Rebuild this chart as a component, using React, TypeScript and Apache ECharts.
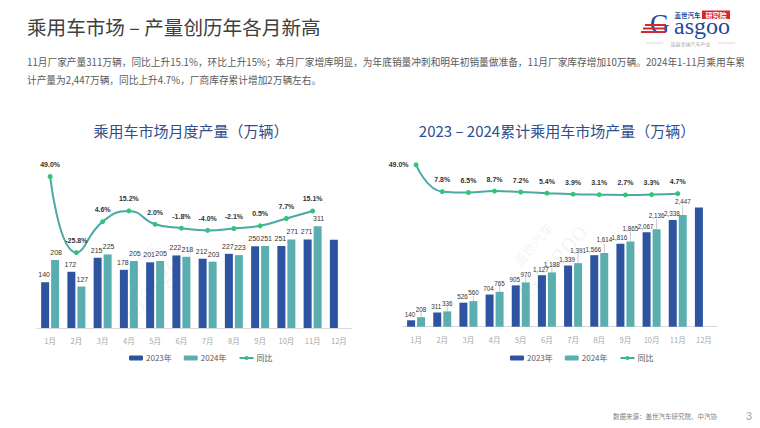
import React, { useEffect, useRef } from 'react';
import * as echarts from 'echarts';

const months = ['1月', '2月', '3月', '4月', '5月', '6月', '7月', '8月', '9月', '10月', '11月', '12月'];
const monthly2023 = [140, 172, 215, 178, 201, 222, 212, 227, 250, 251, 271, 270];
const monthly2024 = [208, 127, 225, 205, 205, 218, 203, 223, 251, 271, 311];
const monthlyYoY = [49.0, -25.8, 4.6, 15.2, 2.0, -1.8, -4.0, -2.1, 0.5, 7.7, 15.1];
const cum2023 = [140, 311, 526, 704, 905, 1127, 1339, 1566, 1816, 2067, 2338, 2608];
const cum2024 = [208, 336, 560, 765, 970, 1188, 1391, 1614, 1865, 2136, 2447];
const cumYoY = [49.0, 7.8, 6.5, 8.7, 7.2, 5.4, 3.9, 3.1, 2.7, 3.3, 4.7];
const seriesNames = ['2023年', '2024年', '同比'];

const C_2023 = '#2E54A1';
const C_2024 = '#5BAEAF';
const C_LINE = '#4AA9A6';
const C_DOT = '#2DC67A';
const FONT = 'Liberation Sans, Noto Sans CJK SC, sans-serif';
const CJK = 'Noto Sans CJK SC, sans-serif';

const fmt = (v: number) => v.toLocaleString('en-US');

export default function App() {
  const ref = useRef<HTMLDivElement>(null);
  useEffect(() => {
    if (!ref.current) return;
    const chart = echarts.init(ref.current, undefined, { renderer: 'svg' });

    const barLabel = (last: boolean, useFmt: boolean, distance: number, size: number, offset: number[]) => ({
      show: true,
      position: 'top',
      distance,
      offset,
      fontSize: size,
      color: '#333',
      fontFamily: FONT,
      formatter: (p: any) => (last && p.dataIndex === 11 ? '' : useFmt ? fmt(p.value) : String(p.value)),
    });
    const lineLabel = {
      show: true,
      position: 'top',
      distance: 6,
      fontSize: 7,
      fontWeight: 'bold',
      color: '#333',
      fontFamily: FONT,
      formatter: (p: any) => p.value.toFixed(1) + '%',
    };
    const xAxisCommon = {
      type: 'category',
      data: months,
      axisLine: { lineStyle: { color: '#D9D9D9', width: 1 } },
      axisTick: { show: false },
      axisLabel: { color: '#A6A6A6', fontSize: 7.5, margin: 9, fontFamily: CJK },
    };
    const legendCommon = {
      data: seriesNames,
      top: 349,
      itemWidth: 14,
      itemHeight: 5,
      itemGap: 12,
      textStyle: { fontSize: 8, color: '#595959', fontFamily: CJK, padding: [0, 0, 0, -2] },
    };

    const watermark = (x: number, y: number) => ({
      type: 'group',
      x,
      y,
      rotation: 0.85,
      silent: true,
      children: [
        { type: 'text', x: 0, y: -16, style: { text: '盖世汽车', fontSize: 13, fill: 'rgba(170,170,170,0.16)', fontFamily: CJK, align: 'center', verticalAlign: 'middle' } },
        { type: 'text', x: 0, y: 8, style: { text: 'Gasgoo', fontSize: 30, fill: 'rgba(170,170,170,0.13)', fontFamily: 'Liberation Serif', align: 'center', verticalAlign: 'middle' } },
      ],
    });

    const cumYoYData = cumYoY.map((v, i) =>
      i === 0 ? { value: v, label: { position: 'left', distance: 5 } } : v
    );

    chart.setOption({
      animation: false,
      backgroundColor: '#fff',
      grid: [
        { left: 37, top: 145, width: 315, height: 183 },
        { left: 403, top: 157.7, width: 314, height: 169 },
      ],
      xAxis: [
        { ...xAxisCommon, gridIndex: 0 },
        { ...xAxisCommon, gridIndex: 1 },
      ],
      yAxis: [
        { type: 'value', gridIndex: 0, min: 0, max: 560, show: false, splitLine: { show: false } },
        { type: 'value', gridIndex: 0, min: -100, max: 80, show: false, splitLine: { show: false } },
        { type: 'value', gridIndex: 1, min: 0, max: 3700, show: false, splitLine: { show: false } },
        { type: 'value', gridIndex: 1, min: -200, max: 60, show: false, splitLine: { show: false } },
      ],
      legend: [
        { ...legendCommon, left: 124 },
        { ...legendCommon, left: 505 },
      ],
      series: [
        {
          name: '2023年', type: 'bar', xAxisIndex: 0, yAxisIndex: 0, data: monthly2023,
          barWidth: 8, barGap: '25%', itemStyle: { color: C_2023 }, label: barLabel(true, false, 4, 7, [-1, 0]),
        },
        {
          name: '2024年', type: 'bar', xAxisIndex: 0, yAxisIndex: 0, data: monthly2024,
          barWidth: 8, barGap: '25%', itemStyle: { color: C_2024 }, label: barLabel(false, false, 4, 7, [1, 0]),
        },
        {
          name: '同比', type: 'line', xAxisIndex: 0, yAxisIndex: 1, data: monthlyYoY, smooth: 0.5,
          symbol: 'circle', symbolSize: 5, lineStyle: { color: C_LINE, width: 2 },
          itemStyle: { color: C_DOT }, label: lineLabel, z: 5,
        },
        {
          name: '2023年', type: 'bar', xAxisIndex: 1, yAxisIndex: 2, data: cum2023,
          barWidth: 8, barGap: '25%', itemStyle: { color: C_2023 }, label: barLabel(true, true, 3, 6.3, [-1, 0]),
        },
        {
          name: '2024年', type: 'bar', xAxisIndex: 1, yAxisIndex: 2, data: cum2024,
          barWidth: 8, barGap: '25%', itemStyle: { color: C_2024 }, label: barLabel(false, true, 5, 6.3, [2, 0]),
          labelLayout: (p: any) => (p.dataIndex >= 6 ? { dy: -5 } : {}),
          labelLine: { show: true, length2: 0, lineStyle: { color: '#A6A6A6', width: 0.6 } },
        },
        {
          name: '同比', type: 'line', xAxisIndex: 1, yAxisIndex: 3, data: cumYoYData, smooth: 0.5,
          symbol: 'circle', symbolSize: 5, lineStyle: { color: C_LINE, width: 2 },
          itemStyle: { color: C_DOT }, label: lineLabel, z: 5,
        },
      ],
      graphic: [
        watermark(150, 275),
        watermark(545, 255),
        {
          type: 'text', x: 27, y: 26,
          style: { text: '乘用车市场 – 产量创历年各月新高', fontSize: 19.6, fill: '#404040', fontFamily: CJK, verticalAlign: 'middle' },
        },
        {
          type: 'text', x: 27, y: 53,
          style: {
            text: '11月厂家产量311万辆，同比上升15.1%，环比上升15%；本月厂家增库明显，为年底销量冲刺和明年初销量做准备，11月厂家库存增加10万辆。2024年1-11月乘用车累\n计产量为2,447万辆，同比上升4.7%，厂商库存累计增加2万辆左右。',
            fontSize: 9.7, lineHeight: 18, fill: '#595959', fontFamily: CJK, verticalAlign: 'top',
          },
        },
        {
          type: 'text', x: 191, y: 130,
          style: { text: '乘用车市场月度产量（万辆）', fontSize: 15, fill: '#2F4E8E', fontFamily: CJK, align: 'center', verticalAlign: 'middle' },
        },
        {
          type: 'text', x: 557, y: 130,
          style: { text: '2023 – 2024累计乘用车市场产量（万辆）', fontSize: 15, fill: '#2F4E8E', fontFamily: CJK, align: 'center', verticalAlign: 'middle' },
        },
        // logo
        { type: 'text', x: 700.5, y: 14.5, style: { text: '盖世汽车', fontSize: 6.5, lineHeight: 7, fontWeight: 'bold', fill: '#1E4B9B', fontFamily: CJK, align: 'right', verticalAlign: 'middle' } },
        { type: 'rect', shape: { x: 702, y: 10.5, width: 28, height: 8.5 }, style: { fill: '#D7262E' } },
        { type: 'text', x: 716, y: 14.7, style: { text: '研究院', fontSize: 7, lineHeight: 7, fontWeight: 'bold', fill: '#fff', fontFamily: CJK, align: 'center', verticalAlign: 'middle' } },
        { type: 'text', x: 650, y: 24, style: { text: 'G', fontSize: 27, lineHeight: 10, fill: '#1E4B9B', fontFamily: 'Liberation Serif', verticalAlign: 'middle' } },
        { type: 'rect', shape: { x: 645, y: 24, width: 21, height: 2 }, style: { fill: '#D7262E' } },
        { type: 'rect', shape: { x: 643, y: 27.5, width: 23, height: 2 }, style: { fill: '#D7262E' } },
        { type: 'rect', shape: { x: 641, y: 31, width: 25, height: 2 }, style: { fill: '#D7262E' } },
        { type: 'text', x: 674, y: 25.5, style: { text: 'asgoo', fontSize: 24, lineHeight: 10, fill: '#1E4B9B', fontFamily: 'Liberation Serif', verticalAlign: 'middle' } },
        { type: 'line', shape: { x1: 646, y1: 43, x2: 663, y2: 43 }, style: { stroke: '#BFBFBF', lineWidth: 0.6 } },
        { type: 'line', shape: { x1: 718, y1: 43, x2: 735, y2: 43 }, style: { stroke: '#BFBFBF', lineWidth: 0.6 } },
        { type: 'text', x: 690.5, y: 43, style: { text: '连接全球汽车产业', fontSize: 5, fill: '#A6A6A6', fontFamily: CJK, align: 'center', verticalAlign: 'middle' } },
        // footer
        { type: 'text', x: 613, y: 416, style: { text: '数据来源：盖世汽车研究院、中汽协', fontSize: 6.5, fill: '#7F7F7F', fontFamily: CJK, verticalAlign: 'middle' } },
        { type: 'text', x: 746, y: 416, style: { text: '3', fontSize: 11, fill: '#A6A6A6', fontFamily: FONT, verticalAlign: 'middle' } },
      ],
    });
    return () => chart.dispose();
  }, []);
  return <div ref={ref} style={{ position: 'fixed', left: 0, top: 0, width: 760, height: 428 }} />;
}
